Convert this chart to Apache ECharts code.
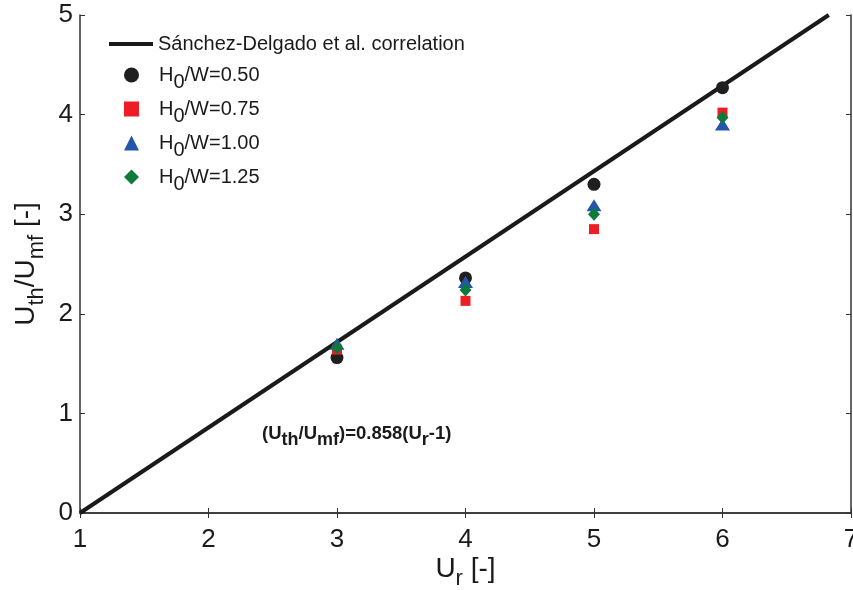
<!DOCTYPE html>
<html>
<head>
<meta charset="utf-8">
<script src="https://cdn.jsdelivr.net/npm/echarts@6/dist/echarts.min.js"></script>
<style>
  html, body { margin: 0; padding: 0; background: #fff; }
  #chart { width: 853px; height: 590px; }
</style>
</head>
<body>
<div id="chart"></div>
<script>
// Superficial velocity ratio U_r and measured threshold ratio U_th/U_mf
const urValues = [3, 4, 5, 6];
const h050 = [1.56, 2.36, 3.30, 4.27];
const h075 = [1.64, 2.13, 2.85, 4.02];
const h100 = [1.70, 2.32, 3.09, 3.90];
const h125 = [1.66, 2.24, 3.00, 3.97];

// Correlation (U_th/U_mf) = 0.858 (U_r - 1), end points of the drawn segment
const corrX = [1, 6.827];
const corrY = [0, 5];

const seriesNames = ['Sánchez-Delgado et al. correlation', 'H0/W=0.50', 'H0/W=0.75', 'H0/W=1.00', 'H0/W=1.25'];
const legendLabels = {
  'Sánchez-Delgado et al. correlation': '{n|Sánchez-Delgado et al. correlation}',
  'H0/W=0.50': '{g| }{n|H}{s|0}{n|/W=0.50}',
  'H0/W=0.75': '{g| }{n|H}{s|0}{n|/W=0.75}',
  'H0/W=1.00': '{g| }{n|H}{s|0}{n|/W=1.00}',
  'H0/W=1.25': '{g| }{n|H}{s|0}{n|/W=1.25}'
};

const pair = (xs, ys) => xs.map((x, i) => [x, ys[i]]);

const FONT = 'Liberation Sans, Arial, sans-serif';
const tickFont = { fontFamily: FONT, fontSize: 26, color: '#1a1a1a' };
const axisLine = { show: true, lineStyle: { color: '#333', width: 1.5 } };
const innerTick = { show: true, inside: true, length: 5, lineStyle: { color: '#333' } };

const legendRich = {
  g: { width: 15, fontSize: 20, lineHeight: 22 },
  n: { fontFamily: FONT, fontSize: 20, color: '#1a1a1a', lineHeight: 22 },
  s: { fontFamily: FONT, fontSize: 20, color: '#1a1a1a', lineHeight: 22, padding: [14, 0, 0, 0] }
};
const titleRich = {
  n: { fontFamily: FONT, fontSize: 28, color: '#1a1a1a', lineHeight: 32 },
  s: { fontFamily: FONT, fontSize: 22, color: '#1a1a1a', lineHeight: 32, padding: [20, 0, 0, 0] }
};

const chart = echarts.init(document.getElementById('chart'), null, { renderer: 'canvas' });

chart.setOption({
  animation: false,
  backgroundColor: '#fff',
  grid: { left: 80, right: 2, top: 15, bottom: 77, outerBoundsMode: 'none', containLabel: false },
  legend: [{
    // correlation line entry
    left: 104,
    top: 29,
    orient: 'vertical',
    itemWidth: 44,
    itemHeight: 4,
    data: [{ name: seriesNames[0], icon: 'rect' }],
    formatter: name => legendLabels[name],
    textStyle: { rich: legendRich }
  }, {
    // measured data entries
    left: 119,
    top: 53,
    orient: 'vertical',
    itemWidth: 15,
    itemHeight: 15,
    itemGap: 0,
    data: seriesNames.slice(1),
    formatter: name => legendLabels[name],
    textStyle: { rich: legendRich }
  }],
  xAxis: [{
    type: 'value', min: 1, max: 7, interval: 1,
    axisLine: axisLine,
    axisTick: innerTick,
    splitLine: { show: false },
    axisLabel: Object.assign({ margin: 14 }, tickFont),
    name: '{n|U}{s|r}{n| [-]}',
    nameLocation: 'middle',
    nameGap: 40,
    nameMoveOverlap: false,
    nameTextStyle: { rich: titleRich }
  }, {
    type: 'value', min: 1, max: 7, interval: 1, position: 'top',
    axisLine: axisLine,
    axisTick: innerTick,
    axisLabel: { show: false },
    splitLine: { show: false }
  }],
  yAxis: [{
    type: 'value', min: 0, max: 5, interval: 1,
    axisLine: axisLine,
    axisTick: innerTick,
    splitLine: { show: false },
    axisLabel: Object.assign({ margin: 7 }, tickFont),
    name: '{n|U}{s|th}{n|/U}{s|mf}{n| [-]}',
    nameLocation: 'middle',
    nameRotate: 90,
    nameGap: 36,
    nameTextStyle: { rich: titleRich }
  }, {
    type: 'value', min: 0, max: 5, interval: 1, position: 'right',
    axisLine: axisLine,
    axisTick: innerTick,
    axisLabel: { show: false },
    splitLine: { show: false }
  }],
  graphic: [{
    type: 'text',
    left: 262,
    top: 418,
    style: {
      text: '{b|(U}{bs|th}{b|/U}{bs|mf}{b|)=0.858(U}{bs|r}{b|-1)}',
      rich: {
        b: { fontFamily: FONT, fontWeight: 'bold', fontSize: 18.5, fill: '#1a1a1a', lineHeight: 22 },
        bs: { fontFamily: FONT, fontWeight: 'bold', fontSize: 18, fill: '#1a1a1a', lineHeight: 22, padding: [13, 0, 0, 0] }
      }
    }
  }],
  series: [{
    name: seriesNames[0],
    type: 'line',
    data: pair(corrX, corrY),
    symbol: 'none',
    lineStyle: { color: '#1a1a1a', width: 4 },
    itemStyle: { color: '#1a1a1a' },
    z: 1
  }, {
    name: seriesNames[1],
    type: 'scatter',
    data: pair(urValues, h050),
    symbol: 'circle',
    symbolSize: 13,
    itemStyle: { color: '#1f1f1f', opacity: 1 },
    z: 2
  }, {
    name: seriesNames[2],
    type: 'scatter',
    data: pair(urValues, h075),
    symbol: 'rect',
    symbolSize: 10,
    itemStyle: { color: '#ee1c25', opacity: 1 },
    z: 3
  }, {
    name: seriesNames[3],
    type: 'scatter',
    data: pair(urValues, h100),
    symbol: 'triangle',
    symbolSize: [15, 12],
    itemStyle: { color: '#2356a8', opacity: 1 },
    z: 4
  }, {
    name: seriesNames[4],
    type: 'scatter',
    data: pair(urValues, h125),
    symbol: 'diamond',
    symbolSize: [12, 13],
    itemStyle: { color: '#0b7a3b', opacity: 1 },
    z: 5
  }]
});
</script>
</body>
</html>
